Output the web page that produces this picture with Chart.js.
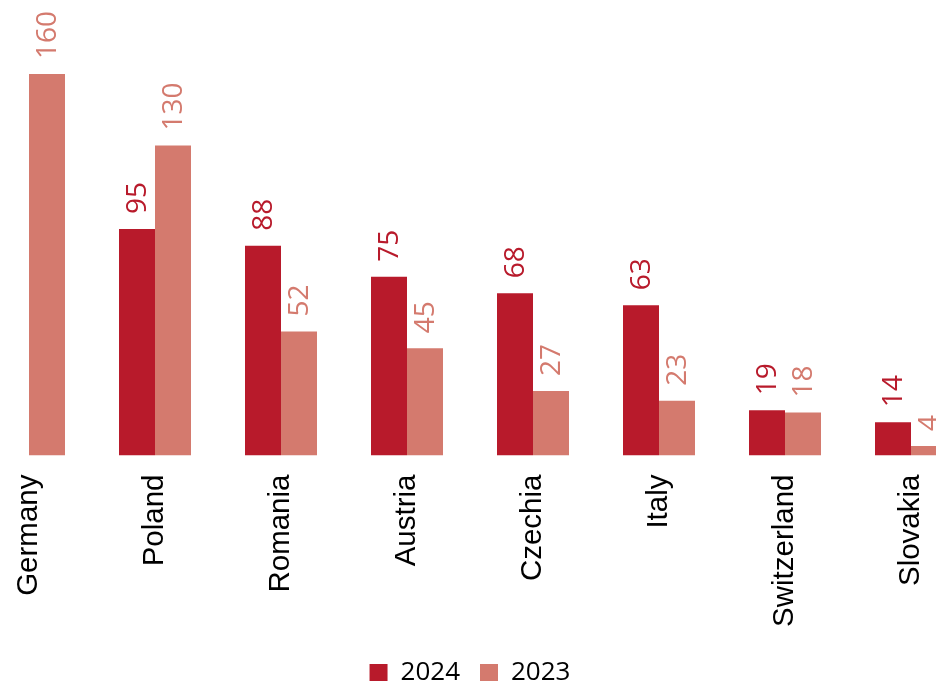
<!DOCTYPE html>
<html>
<head>
<meta charset="utf-8">
<script src="https://cdn.jsdelivr.net/npm/chart.js@4/dist/chart.umd.min.js"></script>
<style>
html,body{margin:0;padding:0;background:#fff;overflow:hidden;width:936px;height:681px;}
#wrap{position:absolute;left:-34px;top:0;width:1008px;height:696px;}
</style>
</head>
<body>
<div id="wrap"><canvas id="c" width="1008" height="696"></canvas></div>
<script>
const categories = ["Germany","Poland","Romania","Austria","Czechia","Italy","Switzerland","Slovakia"];
const values2024 = [null,95,88,75,68,63,19,14];
const values2023 = [160,130,52,45,27,23,18,4];
const seriesNames = ["2024","2023"];

const DARK = "#B81A2B";
const LIGHT = "#D47A6E";

const labelPlugin = {
  id: "barLabels",
  afterDatasetsDraw(chart) {
    const ctx = chart.ctx;
    chart.data.datasets.forEach((ds, i) => {
      const meta = chart.getDatasetMeta(i);
      meta.data.forEach((el, j) => {
        const v = ds.data[j];
        if (v === null || v === undefined) return;
        ctx.save();
        ctx.translate(el.x + 1, el.y - 15);
        ctx.rotate(-Math.PI / 2);
        ctx.font = "28px 'Open Sans'";
        ctx.fillStyle = ds.backgroundColor;
        ctx.textAlign = "left";
        ctx.textBaseline = "middle";
        ctx.fillText(String(v), 0, 0);
        ctx.restore();
      });
    });
  }
};

new Chart(document.getElementById("c"), {
  type: "bar",
  data: {
    labels: categories,
    datasets: [
      { label: seriesNames[0], data: values2024, backgroundColor: DARK },
      { label: seriesNames[1], data: values2023, backgroundColor: LIGHT }
    ]
  },
  options: {
    responsive: false,
    animation: false,
    devicePixelRatio: 1,
    layout: { padding: { top: 0, bottom: 0, left: 0, right: 0 } },
    datasets: { bar: { categoryPercentage: 0.5714, barPercentage: 1.0 } },
    plugins: {
      legend: {
        position: "bottom",
        labels: {
          boxWidth: 18, boxHeight: 18, padding: 20,
          color: "#000",
          font: { family: "'Open Sans'", size: 26 }
        }
      },
      tooltip: { enabled: false }
    },
    scales: {
      x: {
        grid: { display: false, drawTicks: false },
        border: { display: false },
        afterFit(scale) { scale.height -= 6; },
        ticks: {
          minRotation: 90, maxRotation: 90, autoSkip: false,
          padding: 19,
          color: "#000",
          font: { family: "'Liberation Sans'", size: 29.5 }
        }
      },
      y: {
        display: false,
        min: 0, max: 191
      }
    }
  },
  plugins: [labelPlugin]
});
</script>
</body>
</html>
